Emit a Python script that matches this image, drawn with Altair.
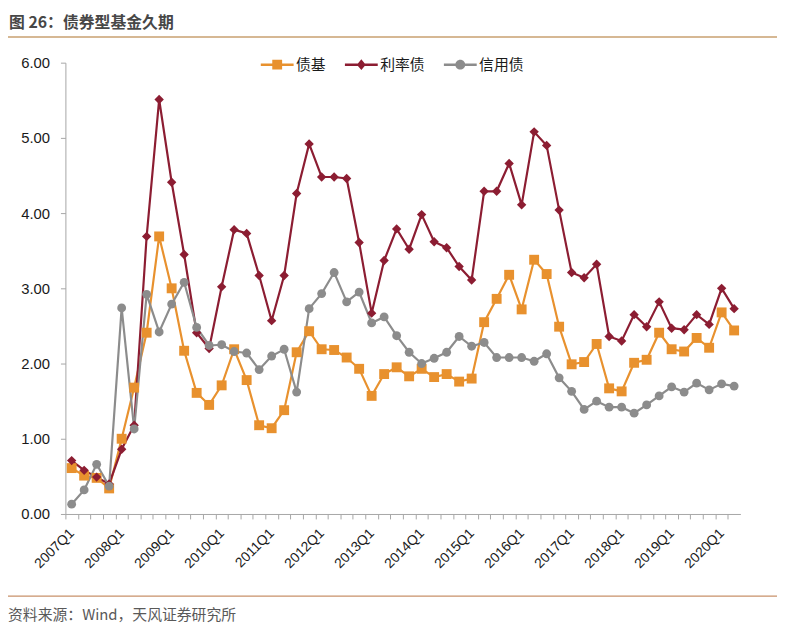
import altair as alt
import pandas as pd

# ---------------- data ----------------
quarters = [
    "2007Q1", "2007Q2", "2007Q3", "2007Q4",
    "2008Q1", "2008Q2", "2008Q3", "2008Q4",
    "2009Q1", "2009Q2", "2009Q3", "2009Q4",
    "2010Q1", "2010Q2", "2010Q3", "2010Q4",
    "2011Q1", "2011Q2", "2011Q3", "2011Q4",
    "2012Q1", "2012Q2", "2012Q3", "2012Q4",
    "2013Q1", "2013Q2", "2013Q3", "2013Q4",
    "2014Q1", "2014Q2", "2014Q3", "2014Q4",
    "2015Q1", "2015Q2", "2015Q3", "2015Q4",
    "2016Q1", "2016Q2", "2016Q3", "2016Q4",
    "2017Q1", "2017Q2", "2017Q3", "2017Q4",
    "2018Q1", "2018Q2", "2018Q3", "2018Q4",
    "2019Q1", "2019Q2", "2019Q3", "2019Q4",
    "2020Q1", "2020Q2",
]

bond_fund = [
    0.61, 0.51, 0.48, 0.34, 1.00, 1.68, 2.41, 3.69, 3.00, 2.17,
    1.61, 1.45, 1.71, 2.19, 1.78, 1.18, 1.14, 1.38, 2.15, 2.43,
    2.19, 2.18, 2.08, 1.93, 1.57, 1.86, 1.95, 1.83, 1.93, 1.82,
    1.86, 1.76, 1.80, 2.55, 2.86, 3.18, 2.72, 3.38, 3.19, 2.49,
    1.99, 2.02, 2.26, 1.67, 1.63, 2.01, 2.05, 2.41, 2.19, 2.16,
    2.34, 2.21, 2.68, 2.44,
]

rate_bond = [
    0.71, 0.58, 0.49, 0.40, 0.86, 1.18, 3.69, 5.51, 4.41, 3.45,
    2.41, 2.20, 3.02, 3.78, 3.73, 3.17, 2.57, 3.17, 4.26, 4.92,
    4.48, 4.48, 4.46, 3.61, 2.67, 3.37, 3.79, 3.52, 3.98, 3.62,
    3.54, 3.29, 3.11, 4.29, 4.29, 4.66, 4.11, 5.08, 4.90, 4.04,
    3.21, 3.14, 3.32, 2.36, 2.30, 2.65, 2.49, 2.82, 2.47, 2.45,
    2.65, 2.52, 3.00, 2.73,
]

credit_bond = [
    0.13, 0.32, 0.66, 0.37, 2.74, 1.13, 2.92, 2.42, 2.79, 3.08,
    2.48, 2.24, 2.25, 2.16, 2.14, 1.92, 2.10, 2.19, 1.62, 2.73,
    2.93, 3.21, 2.82, 2.95, 2.54, 2.62, 2.37, 2.15, 2.00, 2.07,
    2.15, 2.36, 2.23, 2.28, 2.08, 2.08, 2.08, 2.03, 2.13, 1.81,
    1.63, 1.39, 1.50, 1.42, 1.42, 1.34, 1.45, 1.57, 1.69, 1.62,
    1.74, 1.65, 1.73, 1.70,
]

series_names = ["债基", "利率债", "信用债"]
series_colors = ["#E8912E", "#8C1D32", "#8C8C8C"]
marker_shapes = ["square", "diamond", "circle"]
marker_sizes = [100, 80, 100]
legend_shapes = [
    "M-1,-0.075H1V0.075H-1Z M-0.3,-0.3H0.3V0.3H-0.3Z",
    "M-1,-0.075H1V0.075H-1Z M0,-0.33L0.27,0L0,0.33L-0.27,0Z",
    "M-1,-0.075H1V0.075H-1Z M-0.3,0A0.3,0.3 0 1,1 0.3,0A0.3,0.3 0 1,1 -0.3,0Z",
]
y_ticks = [0, 1, 2, 3, 4, 5, 6]

title_text = "图 26：债券型基金久期"
source_text = "资料来源：Wind，天风证券研究所"

rows = []
for name, vals in zip(series_names, [bond_fund, rate_bond, credit_bond]):
    for q, v in zip(quarters, vals):
        rows.append({"quarter": q, "series": name, "value": v})
df = pd.DataFrame(rows)

W, H = 682, 456
step = W / len(quarters)
LATIN = "Liberation Sans, Arial, Noto Sans CJK SC, sans-serif"
CJK = "Noto Sans CJK SC, Liberation Sans, sans-serif"

x_enc = alt.X(
    "quarter:O",
    sort=quarters,
    scale=alt.Scale(type="point", padding=0.5),
    axis=alt.Axis(
        title=None,
        labelExpr="slice(datum.value, 4) == 'Q1' ? datum.value : ''",
        labelOverlap=False,
        labelAngle=-45,
        labelAlign="right",
        labelBaseline="middle",
        labelPadding=12,
        labelFontSize=14,
        tickOffset=-step / 2,
        labelOffset=step / 2,
        tickSize=5,
    ),
)
y_enc = alt.Y(
    "value:Q",
    scale=alt.Scale(domain=[0, 6], nice=False),
    axis=alt.Axis(
        title=None,
        values=y_ticks,
        format=".2f",
        grid=False,
        tickSize=5,
        labelPadding=11,
        labelFontSize=15,
    ),
)
color_plain = alt.Color(
    "series:N", scale=alt.Scale(domain=series_names, range=series_colors), legend=None
)

base = alt.Chart(df)

lines = base.mark_line(strokeWidth=2.2).encode(x=x_enc, y=y_enc, color=color_plain)

points = base.mark_point(filled=True, opacity=1, strokeWidth=0).encode(
    x=x_enc,
    y=y_enc,
    color=color_plain,
    shape=alt.Shape(
        "series:N", scale=alt.Scale(domain=series_names, range=marker_shapes), legend=None
    ),
    size=alt.Size(
        "series:N", scale=alt.Scale(domain=series_names, range=marker_sizes), legend=None
    ),
)

leg = dict(
    title=None,
    orient="none",
    legendX=197,
    legendY=-15,
    direction="horizontal",
    symbolSize=1100,
    symbolStrokeWidth=0,
    labelFontSize=15,
    labelFont=CJK,
    labelColor="#1a1a1a",
    labelOffset=2,
    columnPadding=18,
    padding=0,
)
legend_layer = (
    base.transform_filter("false")
    .mark_point(filled=True, opacity=1)
    .encode(
        color=alt.Color(
            "series:N",
            scale=alt.Scale(domain=series_names, range=series_colors),
            legend=alt.Legend(**leg),
        ),
        shape=alt.Shape(
            "series:N",
            scale=alt.Scale(domain=series_names, range=legend_shapes),
            legend=alt.Legend(**leg),
        ),
    )
)

one = pd.DataFrame({"title": [title_text], "source": [source_text]})
deco = alt.Chart(one)

title_mark = deco.mark_text(
    align="left", baseline="top", fontSize=16, fontWeight="bold",
    font=CJK, color="#474747",
).encode(text="title:N", x=alt.value(-57), y=alt.value(-48))

source_mark = deco.mark_text(
    align="left", baseline="alphabetic", fontSize=15, font=CJK, color="#595959",
).encode(text="source:N", x=alt.value(-58), y=alt.value(563))

top_rule = deco.mark_rule(color="#C9A070", strokeWidth=1.5).encode(
    x=alt.value(-58), x2=alt.value(W + 37), y=alt.value(-26)
)
bottom_rule = deco.mark_rule(color="#C8916A", strokeWidth=1.5).encode(
    x=alt.value(-58), x2=alt.value(W + 37), y=alt.value(539)
)

chart = (
    alt.layer(lines, points, legend_layer, title_mark, source_mark, top_rule, bottom_rule)
    .resolve_scale(color="independent", shape="independent", size="independent")
    .properties(
        width=W,
        height=H,
        padding={"left": 58, "top": 52, "right": 37, "bottom": 115},
        autosize=alt.AutoSizeParams(type="none"),
    )
    .configure_view(stroke=None)
    .configure_axis(
        domainColor="#A6A6A6",
        tickColor="#A6A6A6",
        labelColor="#1a1a1a",
        labelFont=LATIN,
        domainWidth=1,
    )
)

chart.save("out.html", embed_options={"renderer": "svg", "actions": False})
